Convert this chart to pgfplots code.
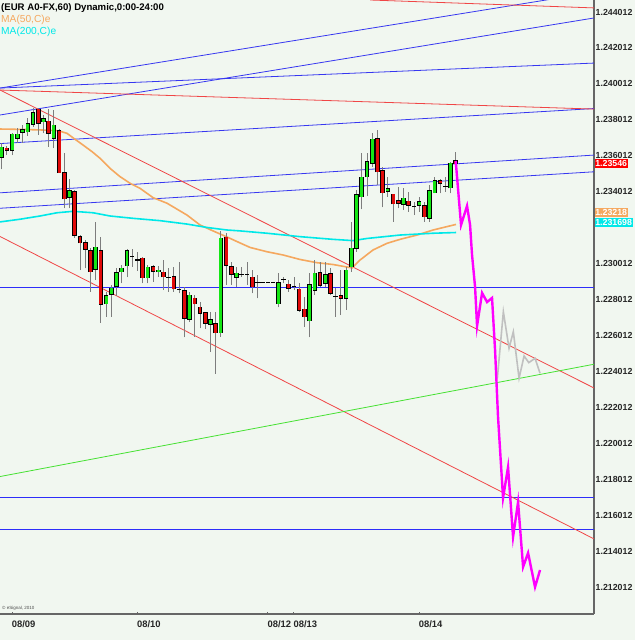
\documentclass[border=0pt]{standalone}
\usepackage{pgfplots}
\pgfplotsset{compat=1.18}
\usepackage{pgfplotstable}
\usepackage{fontspec}
\setmainfont{Liberation Sans}
\definecolor{bgc}{RGB}{241,247,240}
\definecolor{cup}{RGB}{20,230,20}
\definecolor{cdn}{RGB}{225,10,10}
\definecolor{wickc}{RGB}{125,125,125}
\definecolor{tl}{RGB}{55,55,240}
\definecolor{hl}{RGB}{45,45,250}
\definecolor{rl}{RGB}{240,70,70}
\definecolor{gl}{RGB}{70,225,50}
\definecolor{maf}{RGB}{245,168,95}
\definecolor{mas}{RGB}{0,232,232}
\definecolor{fc}{RGB}{255,0,255}
\definecolor{gry}{RGB}{192,192,192}

\pgfplotstableread{
x h t b l
0 1.23671 1.23648 1.23593 1.23526
2 1.23726 1.23721 1.23633 1.23605
3 1.23754 1.23722 1.23698 1.23671
4 1.23772 1.23745 1.23732 1.23671
5 1.23810 1.23778 1.23735 1.23711
6 1.23865 1.23841 1.23778 1.23763
8 1.23828 1.23807 1.23791 1.23726
10 1.23856 1.23772 1.23698 1.23643
13 1.23470 1.23405 1.23370 1.23309
18 1.23234 1.23093 1.22971 1.22910
20 1.22845 1.22821 1.22779 1.22706
21 1.22882 1.22864 1.22830 1.22706
22 1.22975 1.22950 1.22876 1.22821
23 1.22993 1.22975 1.22956 1.22891
24 1.23081 1.23071 1.22988 1.22925
28 1.22993 1.22980 1.22923 1.22891
30 1.22988 1.22965 1.22956 1.22928
36 1.22845 1.22826 1.22691 1.22678
40 1.22733 1.22689 1.22663 1.22511
42 1.23183 1.23142 1.22617 1.22594
45 1.22984 1.22947 1.22925 1.22873
53 1.22947 1.22895 1.22779 1.22758
59 1.22947 1.22882 1.22682 1.22591
60 1.23021 1.22947 1.22854 1.22826
62 1.23012 1.22938 1.22891 1.22873
66 1.22984 1.22965 1.22808 1.22743
67 1.23234 1.23086 1.22984 1.22956
68 1.23411 1.23383 1.23086 1.23067
69 1.23615 1.23481 1.23373 1.23303
70 1.23615 1.23568 1.23485 1.23377
71 1.23726 1.23693 1.23559 1.23540
74 1.23485 1.23416 1.23405 1.23373
77 1.23420 1.23365 1.23331 1.23299
80 1.23373 1.23344 1.23326 1.23290
82 1.23439 1.23407 1.23253 1.23234
83 1.23485 1.23461 1.23396 1.23392
86 1.23568 1.23559 1.23423 1.23392
}\up

\pgfplotstableread{
x h t b l
1 1.23656 1.23643 1.23633 1.23605
7 1.23865 1.23860 1.23782 1.23717
9 1.23860 1.23793 1.23726 1.23652
11 1.23748 1.23741 1.23507 1.23504
12 1.23615 1.23507 1.23361 1.23309
14 1.23411 1.23401 1.23160 1.23144
15 1.23160 1.23151 1.23117 1.22965
16 1.23132 1.23117 1.23081 1.22975
17 1.23086 1.23071 1.22956 1.22845
19 1.23151 1.23071 1.22776 1.22671
27 1.23036 1.23032 1.22923 1.22891
29 1.22993 1.22984 1.22960 1.22900
31 1.23021 1.22953 1.22928 1.22854
33 1.22980 1.22928 1.22861 1.22845
35 1.22873 1.22850 1.22697 1.22591
37 1.22826 1.22808 1.22779 1.22594
38 1.22789 1.22758 1.22725 1.22641
39 1.22733 1.22728 1.22669 1.22636
41 1.22733 1.22665 1.22617 1.22387
43 1.23171 1.23147 1.22993 1.22882
44 1.23012 1.22984 1.22943 1.22882
48 1.22965 1.22925 1.22873 1.22836
55 1.22910 1.22886 1.22864 1.22845
57 1.22891 1.22859 1.22743 1.22733
58 1.22817 1.22747 1.22706 1.22650
61 1.23012 1.22950 1.22882 1.22873
63 1.22975 1.22943 1.22836 1.22826
65 1.22965 1.22821 1.22807 1.22715
72 1.23745 1.23695 1.23512 1.23439
73 1.23540 1.23518 1.23396 1.23314
75 1.23388 1.23388 1.23333 1.23234
76 1.23429 1.23351 1.23337 1.23309
78 1.23401 1.23349 1.23326 1.23290
81 1.23346 1.23323 1.23262 1.23234
84 1.23470 1.23461 1.23448 1.23392
87 1.23624 1.23574 1.23558 1.23522
}\dn

\pgfplotstableread{
x h t b l
25 1.23084 1.23043 1.23043 1.22984
26 1.23067 1.23021 1.23021 1.22962
32 1.22975 1.22925 1.22925 1.22845
34 1.23012 1.22859 1.22859 1.22836
46 1.22984 1.22942 1.22942 1.22928
47 1.23012 1.22942 1.22942 1.22882
49 1.22938 1.22895 1.22895 1.22808
50 1.22895 1.22895 1.22895 1.22895
51 1.22895 1.22895 1.22895 1.22895
52 1.22895 1.22895 1.22895 1.22895
54 1.22928 1.22914 1.22914 1.22891
56 1.22925 1.22873 1.22873 1.22854
64 1.22864 1.22817 1.22817 1.22706
79 1.23346 1.23318 1.23318 1.23271
85 1.23485 1.23429 1.23429 1.23401
}\dj

\newcommand\wicks[1]{%
  \addplot[wickc, line width=0.9pt, quiver={u=0,v=\thisrow{h}-\thisrow{l}}] table[x=x,y=l]{#1};}
\newcommand\bodies[2]{%
  \addplot[black, line width=4.6pt, quiver={u=0,v=\thisrow{t}-\thisrow{b}+0.00006}] table[x=x,y expr=\thisrow{b}-0.00003]{#1};
  \addplot[#2, line width=2.9pt, quiver={u=0,v=\thisrow{t}-\thisrow{b}}] table[x=x,y=b]{#1};}

\begin{document}
\begin{tikzpicture}[x=1pt,y=1pt]
\fill[bgc] (0,0) rectangle (635,-640);
\useasboundingbox (0,0) rectangle (635,-640);
\begin{axis}[
  at={(0,0)}, anchor=north west,
  scale only axis, width=594pt, height=614pt,
  xmin=-0.33, xmax=113.5, ymin=1.21051, ymax=1.24468,
  axis x line*=bottom, axis y line*=right,
  axis line style={draw=black!60, line width=1.3pt},
  clip mode=individual,
  ytick={1.212012,1.214012,1.216012,1.218012,1.220012,1.222012,1.224012,1.226012,1.228012,1.230012,1.234012,1.236012,1.238012,1.240012,1.242012,1.244012},
  yticklabels={1.212012,1.214012,1.216012,1.218012,1.220012,1.222012,1.224012,1.226012,1.228012,1.230012,1.234012,1.236012,1.238012,1.240012,1.242012,1.244012},
  ytick style={draw=none},
  yticklabel style={anchor=west, inner sep=0pt, xshift=1.5pt, font=\fontsize{8.8}{10}\selectfont\bfseries, text=black!85},
  xtick={2,26,51,56,80},
  xticklabels={08/09,08/10,08/12,08/13,08/14},
  xtick style={draw=black!60, line width=1pt},
  major tick length=2pt, tick align=inside,
  xticklabel style={anchor=north west, inner sep=0pt, yshift=-6pt, xshift=-0.5pt, font=\fontsize{9.4}{10}\selectfont\bfseries, text=black!85},
]
% trend lines
\addplot[tl, line width=0.8pt] coordinates {(-0.33,1.23978) (113.5,1.24511)};
\addplot[tl, line width=0.8pt] coordinates {(-0.33,1.23828) (113.5,1.24368)};
\addplot[tl, line width=0.8pt] coordinates {(-0.33,1.23978) (113.5,1.24117)};
\addplot[tl, line width=0.8pt] coordinates {(-0.33,1.23669) (113.5,1.23864)};
\addplot[tl, line width=0.8pt] coordinates {(-0.33,1.23395) (113.5,1.23605)};
\addplot[tl, line width=0.8pt] coordinates {(-0.33,1.23309) (113.5,1.23512)};
\addplot[hl, line width=0.9pt] coordinates {(-0.33,1.22869) (113.5,1.22869)};
\addplot[hl, line width=0.9pt] coordinates {(-0.33,1.21699) (113.5,1.21699)};
\addplot[hl, line width=0.9pt] coordinates {(-0.33,1.21524) (113.5,1.21524)};
\addplot[rl, line width=0.8pt] coordinates {(-0.33,1.23967) (113.5,1.22309)};
\addplot[rl, line width=0.8pt] coordinates {(-0.33,1.23152) (113.5,1.21469)};
\addplot[rl, line width=0.8pt] coordinates {(-0.33,1.23967) (113.5,1.23861)};
\addplot[rl, line width=0.8pt] coordinates {(70.58,1.24468) (113.5,1.24424)};
\addplot[gl, line width=0.8pt] coordinates {(-0.33,1.21816) (113.5,1.22441)};
% moving averages
\addplot[maf, line width=1.6pt] coordinates {
(-0.33,1.23750) (3.51,1.23748) (7.34,1.23745) (10.79,1.23741) (12.51,1.23726)
(14.05,1.23693) (15.58,1.23661) (17.31,1.23624) (18.84,1.23587) (20.76,1.23531)
(22.67,1.23485) (24.59,1.23448) (26.5,1.23420) (29.0,1.23368) (31.68,1.23337)
(35.51,1.23271) (38.0,1.23216) (40.49,1.23183) (43.18,1.23149) (45.67,1.23116)
(47.59,1.23091) (50.84,1.23067) (53.91,1.23049) (57.17,1.23024) (60.43,1.23006)
(63.49,1.22996) (66.18,1.22982) (67.13,1.22977) (68.67,1.23021) (71.16,1.23077)
(73.84,1.23114) (76.33,1.23136) (79.59,1.23160) (82.66,1.23188) (85.34,1.23207)
(87.06,1.23219)};
\addplot[mas, line width=1.6pt] coordinates {
(-0.33,1.23233) (3.51,1.23248) (7.34,1.23266) (10.6,1.23284) (13.66,1.23292)
(17.5,1.23284) (20.76,1.23266) (25.16,1.23253) (30.34,1.23240) (35.51,1.23221)
(39.35,1.23202) (43.18,1.23188) (45.67,1.23183) (50.84,1.23170) (57.17,1.23151)
(63.49,1.23136) (67.32,1.23129) (70.01,1.23141) (76.33,1.23160) (82.66,1.23170)
(87.06,1.23174)};
% candles
\wicks{\up}\wicks{\dn}\wicks{\dj}
\bodies{\up}{cup}
\bodies{\dn}{cdn}
\addplot[black, line width=4.6pt, quiver={u=0,v=0.00006}] table[x=x,y expr=\thisrow{b}-0.00003]{\dj};
% projection paths
\addplot[gry, line width=1.6pt] coordinates {
(94.98,1.22363) (96.13,1.22733) (97.22,1.22530) (98.04,1.22622) (99.14,1.22363)
(100.1,1.22487) (101.0,1.22450) (102.2,1.22474) (103.16,1.22391)};
\addplot[fc, line width=2.4pt] coordinates {
(87,1.23572) (88.02,1.23216) (89.17,1.23322) (89.75,1.23216) (90.13,1.23049)
(90.71,1.22871) (91.09,1.22654) (92.05,1.22838) (93.01,1.22787) (93.96,1.22810)
(94.54,1.22520) (95.11,1.22147) (96.07,1.21697) (97.03,1.21869) (97.99,1.21480)
(98.95,1.21674) (99.91,1.21313) (100.87,1.21391) (102.2,1.21201) (103.16,1.21296)};
\end{axis}
% header texts
\node[anchor=base west, inner sep=0pt, font=\fontsize{9.6}{10}\selectfont\bfseries, text=black] at (1,-10.5) {(EUR A0-FX,60) Dynamic,0:00-24:00};
\node[anchor=base west, inner sep=0pt, font=\fontsize{10.2}{11}\selectfont, text=maf] at (1,-22.5) {MA(50,C)e};
\node[anchor=base west, inner sep=0pt, font=\fontsize{10.2}{11}\selectfont, text=mas] at (1,-34.5) {MA(200,C)e};
\node[anchor=base west, inner sep=0pt, font=\fontsize{4.5}{5}\selectfont, text=black!70] at (2,-609) {\textcopyright\ eSignal, 2010};
% price boxes
\node[anchor=west, fill=red, text=white, inner sep=0.6pt, minimum height=9.5pt, font=\fontsize{8.8}{9}\selectfont\bfseries] at (594.5,-163.5) {1.23546};
\node[anchor=west, fill=maf, text=white, inner sep=0.6pt, minimum height=9pt, font=\fontsize{8.8}{9}\selectfont\bfseries] at (594.5,-212.5) {1.23218};
\node[anchor=west, fill=mas, text=white, inner sep=0.6pt, minimum height=9pt, font=\fontsize{8.8}{9}\selectfont\bfseries] at (594.5,-222.5) {1.231698};
\end{tikzpicture}
\end{document}
